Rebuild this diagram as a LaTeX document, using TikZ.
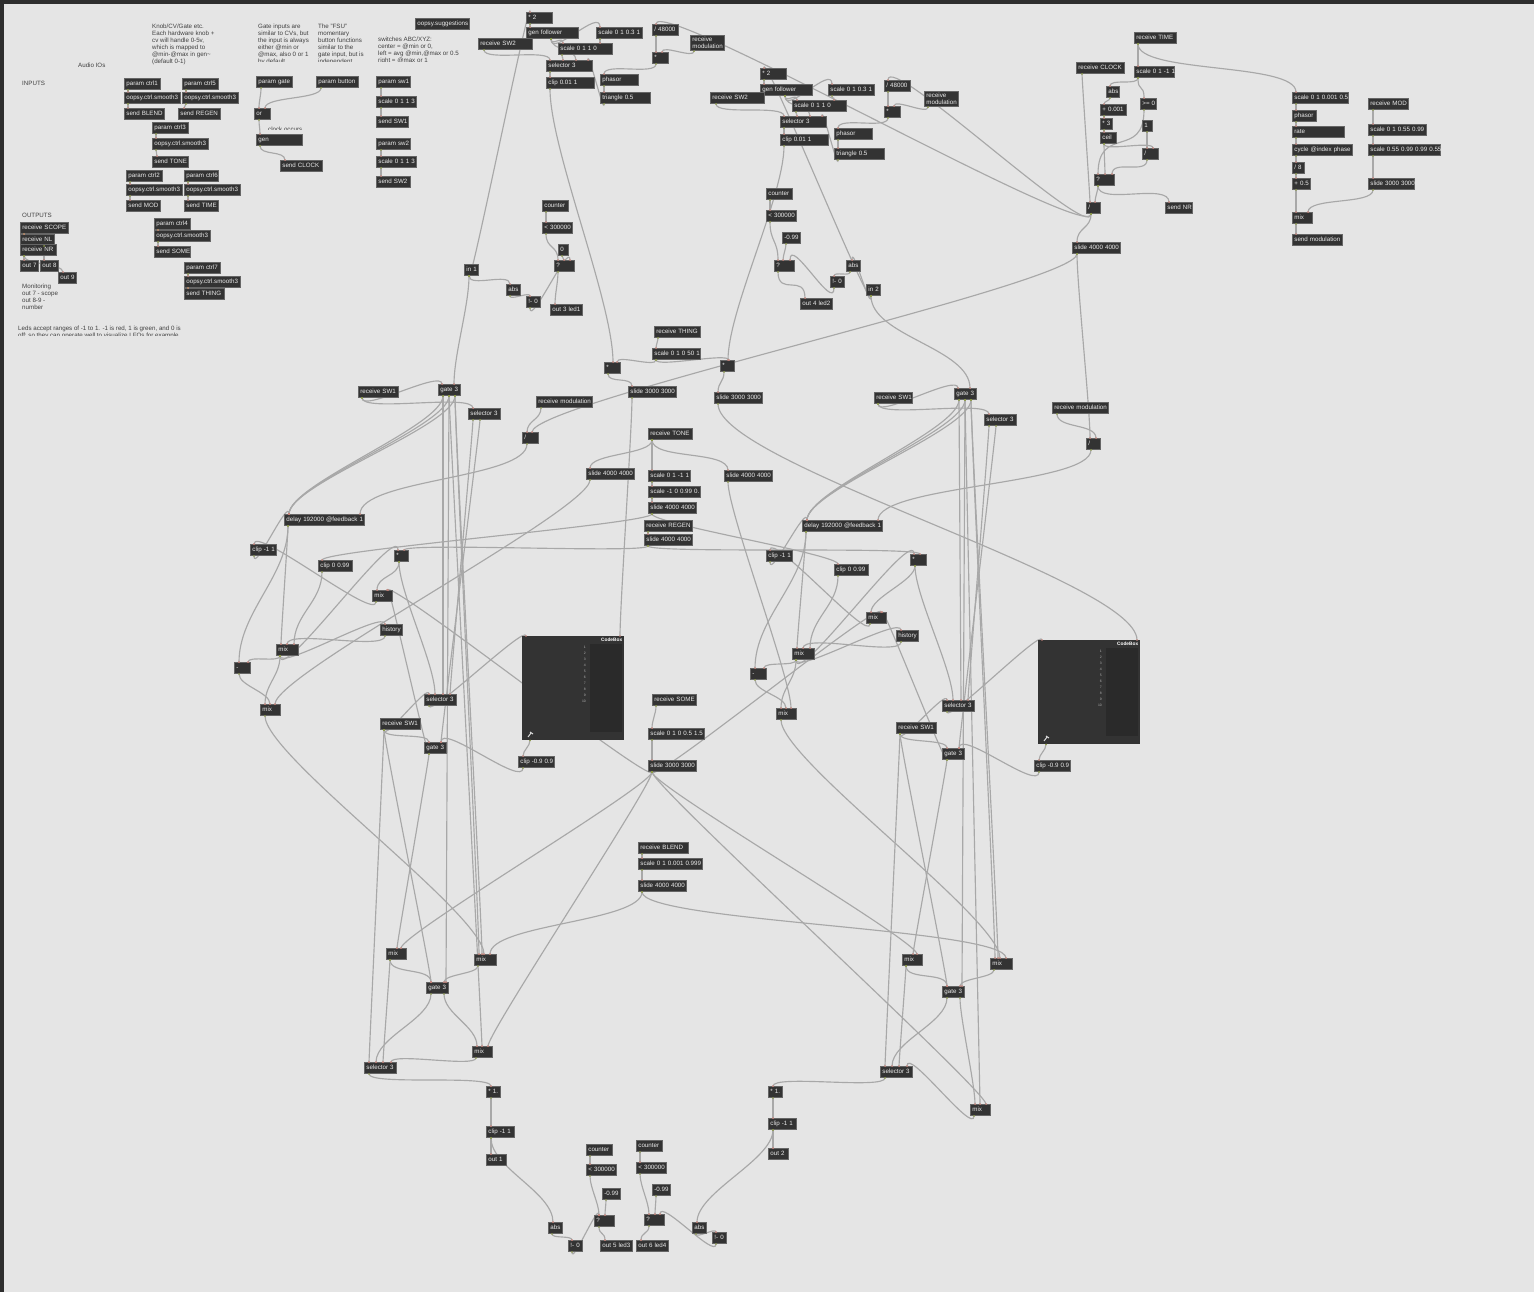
\documentclass[tikz,border=0pt]{standalone}
\usepackage{fontspec}
\setmainfont{Liberation Sans}
\pgfdeclarelayer{back}
\pgfdeclarelayer{cables}
\pgfsetlayers{back,cables,main}
\definecolor{patchbg}{HTML}{E5E5E5}
\definecolor{framebar}{HTML}{2E2E2E}
\definecolor{objfill}{HTML}{333333}
\definecolor{objedge}{HTML}{666666}
\definecolor{panelfill}{HTML}{2A2A2A}
\definecolor{cordgrey}{HTML}{A8A8A8}
\definecolor{inletc}{HTML}{C9837A}
\definecolor{outletc}{HTML}{8C9A45}
\tikzset{
  objbox/.style={rectangle, anchor=west, fill=objfill, draw=objedge, line width=0.8pt, inner xsep=2pt, inner ysep=1pt,
    minimum height=11pt, text=white!92!black, font=\fontsize{6.2}{7}\selectfont, text height=5pt, text depth=1.5pt, align=left},
  objtwo/.style={objbox, text depth=8.5pt},
  note/.style={anchor=north west, inner sep=0pt, text=black!75, font=\fontsize{6.2}{7}\selectfont, align=left},
  cord/.style={draw=cordgrey, line width=1.15pt},
  codebox/.style={rectangle, anchor=north west, fill=objfill, minimum width=102pt, minimum height=104pt, inner sep=0pt},
}
% name/left/centre y/width/text
\newcommand{\objects}[1]{\foreach \nm/\x/\y/\w/\lab in {#1}{
  \node[objbox, text width={\w pt-4pt}] (\nm) at (\x,\y) {\mbox{\lab}};
}}
% from/outlet/to/inlet/bend
\newcommand{\cords}[1]{\foreach \src/\so/\dst/\di/\bend in {#1}{
  \begin{pgfonlayer}{cables}
  \draw[cord] ([xshift=\so pt]\src.south west) .. controls +(0,\bend) and +(0,-\bend) .. ([xshift=\di pt]\dst.north west);
  \end{pgfonlayer}
  \fill[outletc] ([xshift=\so pt]\src.south west) circle (0.9pt);
  \fill[inletc] ([xshift=\di pt]\dst.north west) circle (0.9pt);
}}
\begin{document}
\begin{tikzpicture}[x=1pt,y=-1pt]
\useasboundingbox (0,0) rectangle (1534,1292);
\begin{pgfonlayer}{back}
\fill[patchbg] (0,0) rectangle (1534,1292);
\fill[framebar] (0,0) rectangle (1534,4);
\fill[framebar] (0,0) rectangle (4,1292);
\end{pgfonlayer}
% comments
\node[note] (audioios) at (78,63) {Audio IOs};
\node[note] (inputs) at (22,81) {INPUTS};
\node[note] (outputs) at (22,213) {OUTPUTS};
\node[note] (knobtext) at (152,23.5) {Knob/CV/Gate etc.\\Each hardware knob +\\cv will handle 0-5v,\\which is mapped to\\@min-@max in gen\textasciitilde\\(default 0-1)};
\node[note] (monitor) at (22,283.5) {Monitoring\\out 7 - scope\\out 8-9 -\\number};
\foreach \nm/\x/\y/\ymax/\lab in {
  gatetext/258/23.5/61.5/{Gate inputs are\\similar to CVs, but\\the input is always\\either @min or\\@max, also 0 or 1\\by default},
  fsutext/318/23.5/61.5/{The "FSU"\\momentary\\button functions\\similar to the\\gate input, but is\\independent},
  swtext/378/37/61.5/{switches ABC/XYZ:\\center = @min or 0,\\left = avg @min,@max or 0.5\\right = @max or 1},
  ledtext/18/325.5/335.5/{Leds accept ranges of -1 to 1. -1 is red, 1 is green, and 0 is\\off; so they can operate well to visualize LFOs for example.},
  clocktext/268/127/130/{clock occurs}} {
  \begin{scope}
  \clip (\x,\y) rectangle (\x+180,\ymax);
  \node[note] (\nm) at (\x,\y) {\lab};
  \end{scope}
}
% inputs
\objects{ctrl1/124/84/36/param ctrl1, smooth1/124/98/56/oopsy.ctrl.smooth3, sendblend/124/114/40/send BLEND,
  ctrl5/182/84/36/param ctrl5, smooth5/182/98/56/oopsy.ctrl.smooth3, sendregen/178/114/42/send REGEN,
  ctrl3/152/128/36/param ctrl3, smooth3/152/144/56/oopsy.ctrl.smooth3, sendtone/152/162/36/send TONE,
  ctrl2/126/176/36/param ctrl2, smooth2/126/190/56/oopsy.ctrl.smooth3, sendmod/126/206/34/send MOD,
  ctrl6/184/176/34/param ctrl6, smooth6/184/190/56/oopsy.ctrl.smooth3, sendtime/184/206/34/send TIME,
  ctrl4/154/224/36/param ctrl4, smooth4/154/236/56/oopsy.ctrl.smooth3, sendsome/154/252/36/send SOME,
  ctrl7/184/268/36/param ctrl7, smooth7/184/282/56/oopsy.ctrl.smooth3, sendthing/184/294/40/send THING,
  recvscope/20/228/48/receive SCOPE, recvnl/20/240/34/receive NL, recvnr/20/250/36/receive NR,
  out7/20/266/18/out 7, out8/40/266/18/out 8, out9/58/278/18/out 9,
  pgate/256/82/36/param gate, pbutton/316/82/42/param button, orgate/254/114/16/or, genclock/256/140/46/gen, sendclock/280/166/42/send CLOCK,
  psw1/376/82/34/param sw1, scalesw1/376/102/40/scale 0 1 1 3, sendsw1/376/122/32/send SW1,
  psw2/376/144/34/param sw2, scalesw2/376/162/40/scale 0 1 1 3, sendsw2/376/182/34/send SW2,
  suggest/415/24/54/oopsy.suggestions}
\cords{ctrl1/4/smooth1/4/2, smooth1/4/sendblend/4/2, ctrl5/4/smooth5/4/2, smooth5/4/sendregen/6/2, ctrl3/4/smooth3/4/2, smooth3/4/sendtone/5/2,
  ctrl2/4/smooth2/4/2, smooth2/4/sendmod/4/2, ctrl6/4/smooth6/4/2, smooth6/4/sendtime/4/2, ctrl4/4/smooth4/4/1, smooth4/4/sendsome/4/2, ctrl7/4/smooth7/4/1, smooth7/4/sendthing/4/1,
  recvscope/4/recvnl/4/1, recvnr/4/out7/4/2, recvnl/24/out8/4/1, recvnr/4/out9/5/9,
  pgate/5/orgate/5/8, pbutton/5/orgate/11/12, orgate/5/genclock/4/6, genclock/4/sendclock/5/10,
  psw1/5/scalesw1/5/3, scalesw1/5/sendsw1/5/3, psw2/5/scalesw2/5/3, scalesw2/5/sendsw2/5/3}
% left voice top
\objects{times2L/526/18/26/* 2, followL/526/33/52/gen follower, scaleaL/596/33/46/scale 0 1 0.3 1, swtwoL/478/44/54/receive SW2, scalebL/558/49/54/scale 0 1 1 0,
  selL/546/66/46/selector 3, clipL/546/83/48/clip 0.01 1, div48L/652/30/26/{/ 48000}, multL/652/58/16/*, phasorL/600/80/38/phasor, triL/600/98/50/triangle 0.5,
  cntL/542/206/26/counter, ltL/542/228/30/< 300000, zeroL/558/250/10/0, qL/554/266/20/?, in1/464/270/14/in 1, absL/506/290/14/abs, notL/526/302/14/!- 0, led1/550/310/32/out 3 led1}
\node[objtwo, text width=30pt] (recvmodL) at (690,43) {receive\\modulation};
% right voice top
\objects{times2R/760/74/26/* 2, followR/760/90/52/gen follower, scaleaR/828/90/46/scale 0 1 0.3 1, swtwoR/710/98/54/receive SW2, scalebR/792/106/54/scale 0 1 1 0,
  selR/780/122/46/selector 3, clipR/780/140/48/clip 0.01 1, div48R/884/86/26/{/ 48000}, multR/884/112/16/*, phasorR/834/134/38/phasor, triR/834/154/50/triangle 0.5,
  cntR/766/194/26/counter, ltR/766/216/30/< 300000, m99R/782/238/18/-0.99, qR/774/266/20/?, absR/846/266/14/abs, notR/830/282/14/!- 0, in2/866/290/14/in 2, led2/800/304/32/out 4 led2}
\node[objtwo, text width=30pt] (recvmodR) at (924,99) {receive\\modulation};
% time and modulation
\objects{recvtime/1134/38/42/receive TIME, recvclock/1076/68/48/receive CLOCK, scaletime/1134/72/40/scale 0 1 -1 1, abstime/1106/92/13/abs, addtime/1100/110/26/+ 0.001, gezero/1140/104/16/>= 0,
  times3/1100/124/12/* 3, one/1142/126/10/1, ceiling/1100/138/16/ceil, divone/1142/154/16/{/}, qtime/1094/180/20/?, divtime/1086/208/14/{/}, sendnr/1165/208/27/send NR, slidetime/1072/248/48/slide 4000 4000,
  scalerate/1292/98/56/scale 0 1 0.001 0.5, phasorM/1292/116/24/phasor, rate/1292/132/52/rate, cycle/1292/150/60/cycle @index phase, div8/1292/168/12/{/ 8}, add05/1292/184/18/+ 0.5, mixM/1292/218/20/mix, sendmodu/1292/240/50/send modulation,
  recvmod/1368/104/40/receive MOD, scaleM1/1368/130/58/scale 0 1 0.55 0.99, scaleM2/1368/150/72/scale 0.55 0.99 0.99 0.55, slideM/1368/184/46/slide 3000 3000}
% middle column
\objects{recvthing/654/332/46/receive THING, scalething/652/354/48/scale 0 1 0 50 1, mulA/604/368/16/*, mulB/720/366/14/*, slideA/628/392/48/slide 3000 3000, slideB/714/398/48/slide 3000 3000,
  recvtone/648/434/44/receive TONE, slidetoneL/586/474/48/slide 4000 4000, scaletone/648/476/42/scale 0 1 -1 1, slidetoneR/724/476/48/slide 4000 4000, scaletwo/648/492/52/scale -1 0 0.99 0.,
  slidetone/648/508/48/slide 4000 4000, recvregen/644/526/48/receive REGEN, slideregen/644/540/48/slide 4000 4000,
  recvsome/652/700/44/receive SOME, scalesome/648/734/56/scale 0 1 0 0.5 1.5, slidesome/648/766/48/slide 3000 3000,
  recvblend/638/848/50/receive BLEND, scaleblend/638/864/64/scale 0 1 0.001 0.999, slideblend/638/886/48/slide 4000 4000}
% left delay
\objects{rswL/358/392/40/receive SW1, gateL/438/390/22/gate 3, selectL/468/414/32/selector 3, modL/536/402/56/receive modulation, divL/522/438/16/{/}, delayL/284/520/80/delay 192000 @feedback 1,
  clipfbL/250/550/26/clip -1 1, clip0L/318/566/34/clip 0 0.99, mulfbL/394/556/14/*, mixfbL/372/596/20/mix, histL/380/630/22/history, mixdL/276/650/22/mix, minusL/234/668/16/-, mixoutL/260/710/20/mix,
  sellowL/424/700/32/selector 3, rswlowL/380/724/40/receive SW1, gatelowL/424/748/22/gate 3, clipcL/518/762/36/clip -0.9 0.9,
  mixaL/386/954/20/mix, mixbL/474/960/22/mix, gatebL/426/988/22/gate 3, mixcL/472/1052/20/mix, selbL/364/1068/32/selector 3, gainL/486/1092/14/* 1., clipoL/486/1132/28/clip -1 1, outL/486/1160/20/out 1}
% right delay
\objects{rswR/874/398/38/receive SW1, gateR/954/394/22/gate 3, selectR/984/420/32/selector 3, modR/1052/408/56/receive modulation, divR/1086/444/14/{/}, delayR/802/526/80/delay 192000 @feedback 1,
  clipfbR/766/556/26/clip -1 1, clip0R/834/570/34/clip 0 0.99, mulfbR/910/560/16/*, mixfbR/866/618/20/mix, histR/896/636/22/history, mixdR/792/654/22/mix, minusR/750/674/16/-, mixoutR/776/714/20/mix,
  sellowR/942/706/32/selector 3, rswlowR/896/728/40/receive SW1, gatelowR/942/754/22/gate 3, clipcR/1034/766/36/clip -0.9 0.9,
  mixaR/902/960/20/mix, mixbR/990/964/22/mix, gatebR/942/992/22/gate 3, mixcR/970/1110/20/mix, selbR/880/1072/32/selector 3, gainR/768/1092/14/* 1., clipoR/768/1124/28/clip -1 1, outR/768/1154/20/out 2}
% leds at the bottom
\objects{cnt3/586/1150/26/counter, lt3/586/1170/30/< 300000, m3/602/1194/18/-0.99, q3/594/1221/20/?, abs3/548/1228/14/abs, not3/568/1246/14/!- 0, led3/600/1246/32/out 5 led3,
  cnt4/636/1146/26/counter, lt4/636/1168/30/< 300000, m4/652/1190/18/-0.99, q4/644/1220/20/?, abs4/692/1228/14/abs, not4/712/1238/14/!- 0, led4/636/1246/32/out 6 led4}
% codeboxes
\node[codebox] (codeL) at (522,636) {};
\node[codebox] (codeR) at (1038,640) {};
\foreach \cb in {codeL,codeR} {
  \fill[panelfill] ([xshift=68pt,yshift=-8pt]\cb.north west) rectangle ([xshift=100pt,yshift=-96pt]\cb.north west);
  \node[anchor=north east, inner sep=1pt, text=white, font=\bfseries\fontsize{4.8}{5}\selectfont] (\cb title) at ([xshift=-1pt,yshift=-1pt]\cb.north east) {CodeBox};
  \foreach \i in {1,...,10} {
    \node[anchor=east, inner sep=0pt, text=black!30, font=\fontsize{3.4}{4}\selectfont] (\cb num\i) at ([xshift=64pt,yshift=-5pt-6pt*\i]\cb.north west) {\i};
  }
  \draw[white!85!black, line width=1pt] ([xshift=6pt,yshift=-101pt]\cb.north west) -- ([xshift=9pt,yshift=-97pt]\cb.north west);
  \draw[white!85!black, line width=1pt] ([xshift=8pt,yshift=-96pt]\cb.north west) -- ([xshift=11pt,yshift=-98pt]\cb.north west);
}
% left voice cords
\cords{in1/5/times2L/4/20, times2L/4/followL/4/3, followL/25/scaleaL/4/20, followL/25/scalebL/5/8, scaleaL/4/scalebL/42/5, swtwoL/6/selL/4/12, scalebL/4/selL/17/4, followL/25/selL/30/12, triL/4/selL/42/12,
  selL/4/clipL/4/2, clipL/4/mulA/9/60, div48L/4/multL/4/5, recvmodL/4/multL/10/8, multL/4/phasorL/4/12, phasorL/4/triL/4/4,
  cntL/4/ltL/4/3, ltL/4/qL/4/15, zeroL/4/qL/10/3, in1/5/absL/4/12, absL/4/notL/4/5, notL/4/qL/16/20, qL/4/led1/5/10, in1/5/gateL/16/30}
% right voice cords
\cords{in2/5/times2R/4/20, times2R/4/followR/4/3, followR/25/scaleaR/4/20, followR/25/scalebR/5/8, scaleaR/4/scalebR/42/5, swtwoR/6/selR/4/12, scalebR/4/selR/17/4, followR/25/selR/30/12, triR/4/selR/42/12,
  selR/4/clipR/4/2, clipR/4/mulB/8/50, div48R/4/multR/4/5, recvmodR/4/multR/10/8, multR/4/phasorR/4/12, phasorR/4/triR/4/4,
  cntR/4/ltR/4/3, ltR/4/qR/4/20, m99R/4/qR/9/5, absR/4/notR/4/5, notR/4/qR/16/25, qR/4/led2/5/25, in2/5/absR/6/18, in2/5/gateR/16/40}
% time cords
\cords{recvtime/4/scaletime/4/3, recvtime/4/scalerate/4/30, scaletime/4/abstime/4/8, scaletime/4/gezero/4/15, abstime/4/addtime/4/3, addtime/4/times3/4/2, times3/4/ceiling/4/2,
  gezero/4/qtime/4/50, ceiling/4/qtime/11/6, ceiling/4/divone/11/8, one/5/divone/5/4, divone/5/qtime/18/15, qtime/4/sendnr/4/20, qtime/4/divtime/9/5, recvclock/6/divtime/4/5,
  divtime/5/slidetime/5/15, divtime/5/div48L/4/30, divtime/5/div48R/4/30, slidetime/5/divL/10/30, slidetime/5/divR/4/30,
  scalerate/4/phasorM/4/3, phasorM/4/rate/4/2, rate/4/cycle/4/3, cycle/4/div8/4/3, div8/4/add05/4/2, add05/4/mixM/4/6, mixM/4/sendmodu/4/3,
  recvmod/5/scaleM1/5/5, scaleM1/5/scaleM2/5/2, scaleM2/5/slideM/5/8, slideM/5/mixM/16/15}
% middle cords
\cords{recvthing/4/scalething/4/3, scalething/4/mulA/13/8, scalething/4/mulB/9/8, mulA/4/slideA/4/10, mulB/4/slideB/4/10, slideA/4/codeL/98/30, slideB/4/codeR/99/60,
  recvtone/4/scaletone/4/4, recvtone/4/slidetoneR/4/20, recvtone/4/slidetoneL/4/15, scaletone/4/scaletwo/4/2, scaletwo/4/slidetone/4/2, slidetone/4/clip0L/4/10, slidetone/4/clip0R/4/10,
  recvregen/4/slideregen/4/2, slideregen/4/mulfbL/10/8, slideregen/4/mulfbR/10/8, slidetoneL/4/mixoutL/15/30, slidetoneR/4/mixoutR/15/30,
  recvsome/4/scalesome/4/8, scalesome/4/slidesome/4/6, recvblend/4/scaleblend/4/2, scaleblend/4/slideblend/4/5,
  slideblend/4/mixbL/16/30, slideblend/4/mixbR/16/30, slidesome/4/mixfbL/15/14, slidesome/4/mixfbR/15/14, slidesome/4/mixaL/15/14, slidesome/4/mixcL/16/14, slidesome/4/mixaR/15/14, slidesome/4/mixcR/16/14}
% left delay cords
\cords{rswL/4/gateL/4/15, rswL/4/selectL/5/15, modL/5/divL/5/12, divL/5/delayL/76/35, gateL/5/delayL/5/30, gateL/11/delayL/5/30, gateL/17/delayL/5/30,
  gateL/5/sellowL/19/4, gateL/11/gatebL/20/4, gateL/11/mixcL/10/8, gateL/17/mixbL/5/30, gateL/17/mixbL/8/30, selectL/5/sellowL/26/8, selectL/12/gatelowL/17/5,
  gatelowL/5/mixaL/11/5, gatelowL/5/mixfbL/16/10, clipcL/5/gatelowL/17/20, codeL/8/clipcL/5/6, sellowL/5/codeL/4/12,
  rswlowL/4/sellowL/5/12, rswlowL/4/gatelowL/5/10, rswlowL/4/selbL/5/5, rswlowL/4/gatebL/5/10,
  mixfbL/4/clipfbL/4/20, clipfbL/4/delayL/5/18, delayL/4/minusL/5/50, delayL/4/mixdL/5/8, mixdL/4/minusL/14/7, mixdL/4/histL/5/15, histL/5/mixdL/11/15, clip0L/4/mixdL/18/30,
  mulfbL/5/mixfbL/5/15, mixdL/4/mulfbL/4/30, mulfbL/5/sellowL/11/30, minusL/5/mixoutL/10/12, mixdL/4/mixoutL/5/20, mixoutL/5/mixbL/10/40,
  mixaL/4/selbL/19/5, mixaL/4/gatebL/5/15, mixbL/4/gatebL/18/8, gatebL/5/selbL/12/25, gatebL/18/mixcL/5/20, mixcL/4/selbL/27/10, selbL/5/gainL/5/12, gainL/5/clipoL/5/4, clipoL/5/outL/5/4}
% right delay cords
\cords{rswR/4/gateR/4/15, rswR/4/selectR/5/15, modR/5/divR/10/15, divR/5/delayR/76/35, gateR/5/delayR/5/30, gateR/11/delayR/5/30, gateR/17/delayR/5/30,
  gateR/5/sellowR/19/4, gateR/11/gatebR/20/4, gateR/11/mixcR/10/8, gateR/17/mixbR/5/30, gateR/17/mixbR/8/30, selectR/5/sellowR/26/8, selectR/12/gatelowR/17/5,
  gatelowR/5/mixaR/11/5, gatelowR/5/mixfbR/16/10, clipcR/5/gatelowR/17/20, codeR/8/clipcR/5/6, sellowR/5/codeR/4/12,
  rswlowR/4/sellowR/5/12, rswlowR/4/gatelowR/5/10, rswlowR/4/selbR/5/5, rswlowR/4/gatebR/5/10,
  mixfbR/4/clipfbR/4/20, clipfbR/4/delayR/5/18, delayR/4/minusR/5/50, delayR/4/mixdR/5/8, mixdR/4/minusR/14/7, mixdR/4/histR/5/15, histR/5/mixdR/11/15, clip0R/4/mixdR/18/30,
  mulfbR/5/mixfbR/5/15, mixdR/4/mulfbR/4/30, mulfbR/5/sellowR/11/30, minusR/5/mixoutR/10/12, mixdR/4/mixoutR/5/20, mixoutR/5/mixbR/10/40,
  mixaR/4/selbR/19/5, mixaR/4/gatebR/5/15, mixbR/4/gatebR/18/8, gatebR/5/selbR/12/25, gatebR/18/mixcR/5/20, mixcR/4/selbR/27/20, selbR/5/gainR/5/12, gainR/5/clipoR/5/4, clipoR/5/outR/5/4}
% led cords
\cords{clipoL/5/abs3/5/30, abs3/4/not3/4/5, not3/4/q3/5/14, cnt3/4/lt3/4/3, lt3/4/q3/5/12, m3/4/q3/11/5, q3/5/led3/5/8,
  clipoR/5/abs4/5/30, abs4/4/not4/4/5, not4/4/q4/16/16, cnt4/4/lt4/4/3, lt4/4/q4/5/12, m4/4/q4/11/5, q4/5/led4/5/8}
\end{tikzpicture}
\end{document}
